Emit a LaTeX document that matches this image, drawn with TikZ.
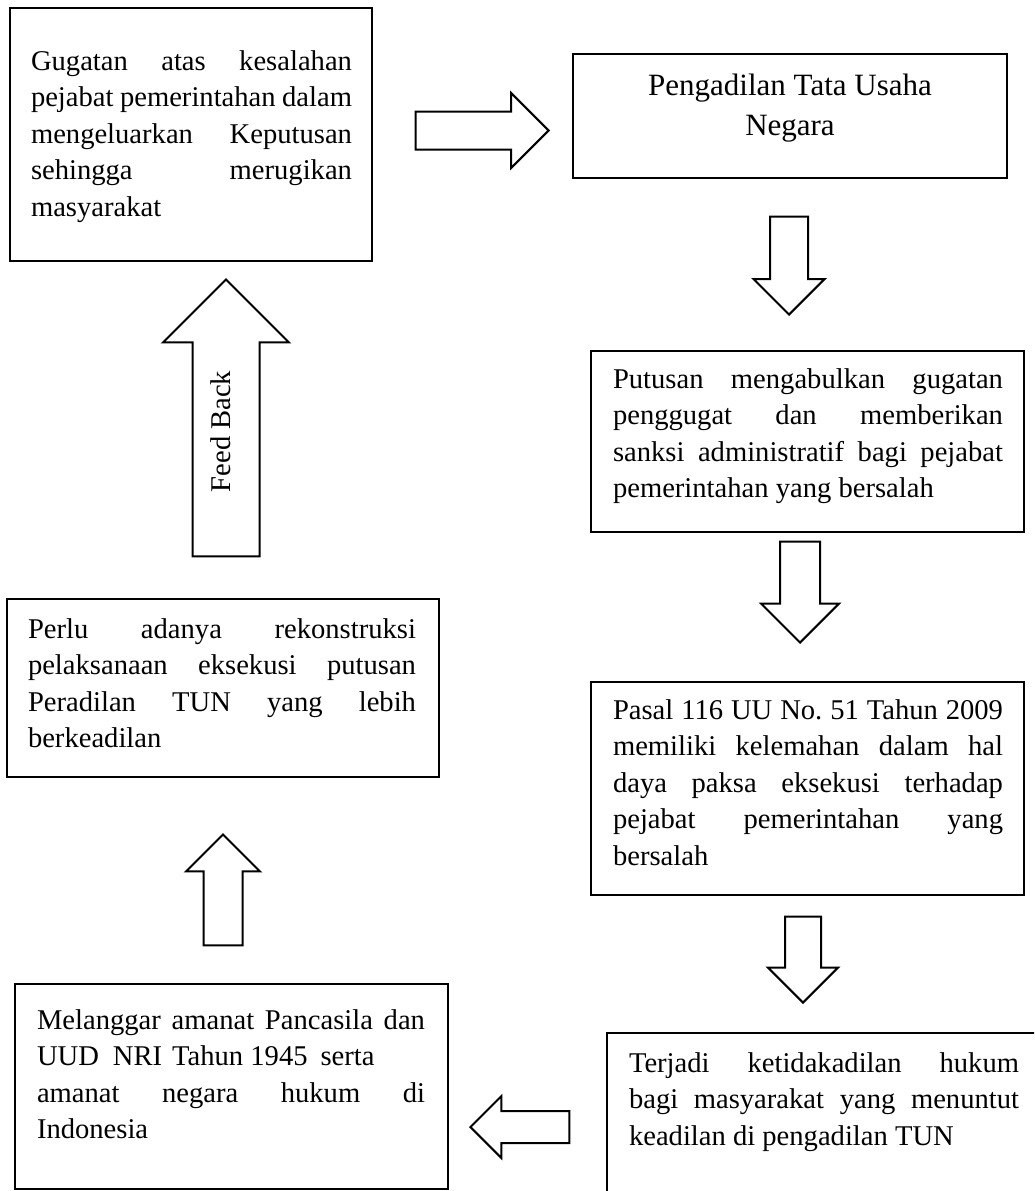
\documentclass[tikz,border=0pt]{standalone}
\usepackage{fontspec}
\setmainfont{Liberation Serif}
\usetikzlibrary{shapes.arrows}

% width of the justified lines inside the current panel
\newlength\panelw
% #1 box width, #2 box height, #3 left padding, #4 text width,
% #5 drop from the top edge to the first baseline, #6 the lines
\newcommand\panelbody[6]{%
  \begin{minipage}[c][#2][t]{#1}%
    \frenchspacing
    \setlength\panelw{#4}%
    \vspace*{\dimexpr #5-\ht\strutbox\relax}%
    \leftskip=#3\relax
    \rightskip=0pt plus 1fill\relax
    \noindent\strut #6\par
  \end{minipage}}
% one justified line, stretched to the full text width
\newcommand\jl[1]{\makebox[\panelw][s]{#1}\\}

\newcommand\bodyfont{\fontsize{28.6pt}{36.6pt}\selectfont}
\newcommand\titlefont{\fontsize{31pt}{40pt}\selectfont}

\tikzset{
  panel/.style={draw, line width=2.6pt, inner sep=0pt, outer sep=0pt,
    anchor=north west, font=\bodyfont},
  blockarrow/.style={draw, line width=2pt, single arrow,
    single arrow head indent=0pt, single arrow tip angle=90,
    inner xsep=0pt, text height=0pt, text depth=0pt, anchor=tip},
}

\begin{document}
\begin{tikzpicture}[x=1pt, y=-1pt]
\useasboundingbox (0,0) rectangle (1034,1191);
\clip (0,0) rectangle (1034,1191);

% boxes
\node[panel] (gugatan) at (10,8) {\panelbody{362pt}{253pt}{21pt}{321pt}{62pt}{%
  \jl{Gugatan atas kesalahan}%
  \jl{pejabat pemerintahan dalam}%
  \jl{mengeluarkan Keputusan}%
  \jl{sehingga merugikan}%
  masyarakat}};

\node[panel, font=\titlefont] (ptun) at (573,54) {%
  \begin{minipage}[c][124pt][t]{434pt}\centering
    \vspace*{\dimexpr 41pt-\ht\strutbox\relax}%
    \strut Pengadilan Tata Usaha\\Negara\par
  \end{minipage}};

\node[panel] (putusan) at (591,351) {\panelbody{433pt}{181pt}{22pt}{390pt}{37pt}{%
  \jl{Putusan mengabulkan gugatan}%
  \jl{penggugat dan memberikan}%
  \jl{sanksi administratif bagi pejabat}%
  pemerintahan yang bersalah}};

\node[panel] (pasal) at (591,682) {\panelbody{433pt}{213pt}{22pt}{390pt}{37pt}{%
  \jl{Pasal 116 UU No. 51 Tahun 2009}%
  \jl{memiliki kelemahan dalam hal}%
  \jl{daya paksa eksekusi terhadap}%
  \jl{pejabat pemerintahan yang}%
  bersalah}};

\node[panel] (terjadi) at (607,1033) {\panelbody{440pt}{180pt}{22pt}{390pt}{39pt}{%
  \jl{Terjadi ketidakadilan hukum}%
  \jl{bagi masyarakat yang menuntut}%
  keadilan di pengadilan TUN}};

\node[panel] (melanggar) at (15,984) {\panelbody{433pt}{205pt}{22pt}{388pt}{45pt}{%
  \jl{Melanggar amanat Pancasila dan}%
  UUD\hspace{14pt}NRI\hspace{10pt}Tahun 1945\hspace{13pt}serta\\
  \jl{amanat negara hukum di}%
  Indonesia}};

\node[panel] (perlu) at (7,599) {\panelbody{432pt}{178pt}{21pt}{388pt}{39pt}{%
  \jl{Perlu adanya rekonstruksi}%
  \jl{pelaksanaan eksekusi putusan}%
  \jl{Peradilan TUN yang lebih}%
  berkeadilan}};

% block arrows between the boxes
\node[blockarrow, minimum height=133pt, inner ysep=18pt,
  single arrow head extend=18.5pt] (toptun) at (550,130.5) {};
\node[blockarrow, rotate=-90, minimum height=98pt, inner ysep=18pt,
  single arrow head extend=16.5pt] (toputusan) at (789,316) {};
\node[blockarrow, rotate=-90, minimum height=101pt, inner ysep=19pt,
  single arrow head extend=19pt] (topasal) at (800,644) {};
\node[blockarrow, rotate=-90, minimum height=86pt, inner ysep=17pt,
  single arrow head extend=17pt] (toterjadi) at (803,1004) {};
\node[blockarrow, rotate=180, minimum height=99pt, inner ysep=15pt,
  single arrow head extend=15pt] (tomelanggar) at (469,1127) {};
\node[blockarrow, rotate=90, minimum height=111pt, inner ysep=18.5pt,
  single arrow head extend=17.5pt] (toperlu) at (223,833) {};
\node[blockarrow, rotate=90, minimum height=277pt, inner ysep=32.5pt,
  single arrow head extend=29.5pt] (feedback) at (226,278) {};
\node[rotate=90, anchor=base, font=\bodyfont, inner sep=0pt] (fblabel)
  at (230,431.5) {Feed Back};
\end{tikzpicture}
\end{document}
